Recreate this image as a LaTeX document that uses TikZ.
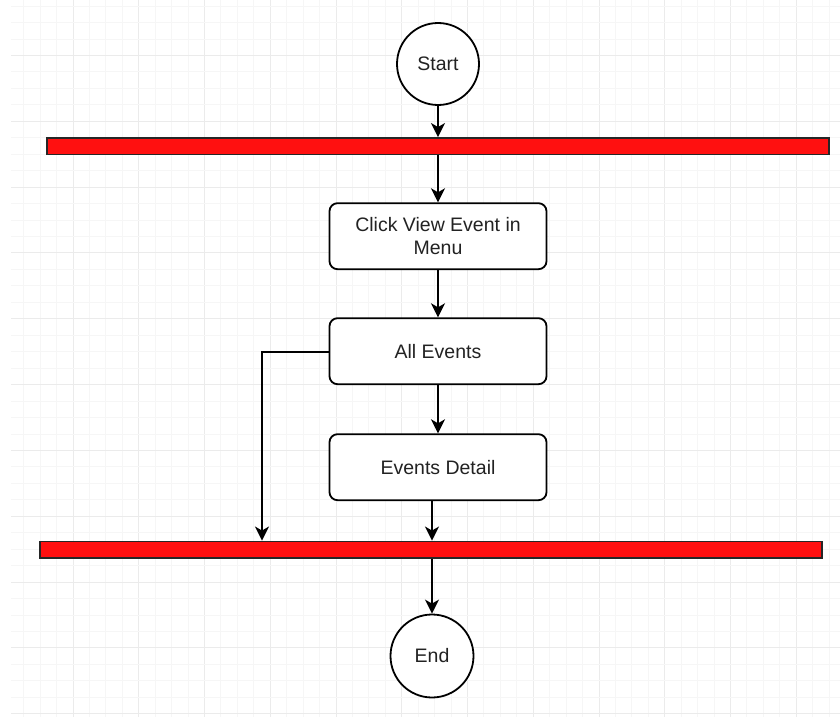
\documentclass[tikz,border=0pt]{standalone}
\usepackage{fontspec}
\setmainfont{Liberation Sans}
\usetikzlibrary{arrows.meta}
\definecolor{gridminor}{HTML}{F6F6F6}
\definecolor{gridmajor}{HTML}{EBEBEB}
\definecolor{barred}{HTML}{FF1010}
\definecolor{txt}{HTML}{222222}
\tikzset{
  stepbox/.style={draw=black, line width=1.8pt, rounded corners=8pt, fill=white,
    minimum width=217pt, minimum height=66pt, align=center, text=txt,
    font=\fontsize{19.5}{23.4}\selectfont, inner sep=0pt},
  termnode/.style={draw=black, line width=1.8pt, circle, fill=white,
    minimum size=82pt, text=txt, font=\fontsize{19.5}{23.4}\selectfont, inner sep=0pt},
  syncbar/.style={draw=black!85, line width=1.8pt, fill=barred,
    minimum width=782pt, minimum height=16.5pt, inner sep=0pt},
  flow/.style={line width=2pt, draw=black, -{Stealth[length=14pt,width=14pt,inset=4pt]}},
}
\begin{document}
\begin{tikzpicture}[x=1pt,y=-1pt]
\useasboundingbox (0,0) rectangle (840,717);
\fill[white] (0,0) rectangle (840,717);
% grid
\begin{scope}
\clip (11,0) rectangle (840,717);
\foreach \i in {1,...,50} {
  \pgfmathsetmacro{\xx}{7.3+16.4375*\i}
  \pgfmathtruncatemacro{\m}{mod(\i,4)}
  \ifnum\m=0
    \draw[gridmajor, line width=1pt] (\xx,0) -- (\xx,717);
  \else
    \draw[gridminor, line width=1pt] (\xx,0) -- (\xx,717);
  \fi
}
\foreach \i in {0,...,43} {
  \pgfmathsetmacro{\yy}{6.1+16.458*\i}
  \pgfmathtruncatemacro{\m}{mod(\i,4)}
  \ifnum\m=3
    \draw[gridmajor, line width=1pt] (11,\yy) -- (840,\yy);
  \else
    \draw[gridminor, line width=1pt] (11,\yy) -- (840,\yy);
  \fi
}
\end{scope}
% nodes
\node[termnode] (start) at (438,64) {Start};
\node[syncbar] (bar1) at (438,146.2) {};
\node[stepbox] (box1) at (438,236.2) {Click View Event in\\Menu};
\node[stepbox] (box2) at (438,351.2) {All Events};
\node[stepbox] (box3) at (438,467.2) {Events Detail};
\node[syncbar] (bar2) at (431,549.7) {};
\node[termnode, minimum size=83pt] (end) at (432,656) {End};
\coordinate (lc) at (262,352);
% connectors
\draw[flow] (start.south) -- (start.south |- bar1.north);
\draw[flow] (box1.north |- bar1.south) -- (box1.north);
\draw[flow] (box1.south) -- (box2.north);
\draw[flow] (box2.south) -- (box3.north);
\draw[flow] (end |- box3.south) -- (end |- bar2.north);
\draw[flow] (end |- bar2.south) -- (end.north);
\draw[flow] (box2.west |- lc) -- (lc) -- (lc |- bar2.north);
\end{tikzpicture}
\end{document}
